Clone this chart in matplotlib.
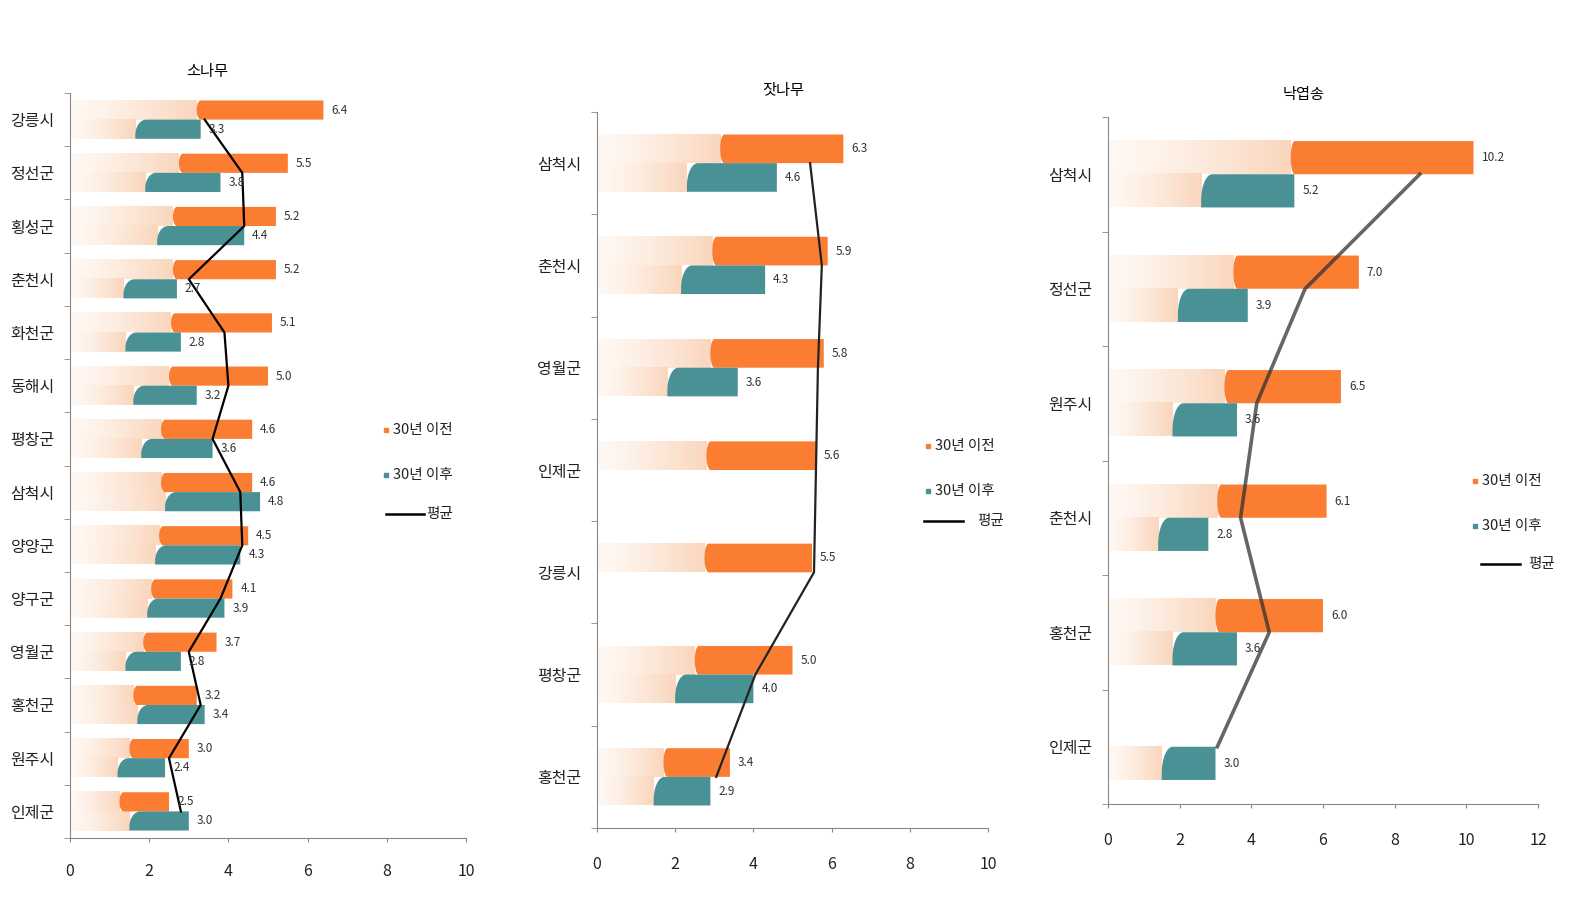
import numpy as np
import matplotlib
matplotlib.use("Agg")
import matplotlib.pyplot as plt
from matplotlib.patches import Polygon
from matplotlib.lines import Line2D

plt.rcParams["font.family"] = ["Noto Sans CJK KR", "DejaVu Sans"]

# ── data ──────────────────────────────────────────────────────────────────────
pine_cats = ["강릉시", "정선군", "횡성군", "춘천시", "화천군", "동해시", "평창군",
             "삼척시", "양양군", "양구군", "영월군", "홍천군", "원주시", "인제군"]
pine_before = [6.4, 5.5, 5.2, 5.2, 5.1, 5.0, 4.6, 4.6, 4.5, 4.1, 3.7, 3.2, 3.0, 2.5]
pine_after = [3.3, 3.8, 4.4, 2.7, 2.8, 3.2, 3.6, 4.8, 4.3, 3.9, 2.8, 3.4, 2.4, 3.0]
pine_avg = [3.4, 4.35, 4.4, 3.0, 3.9, 4.0, 3.6, 4.3, 4.35, 3.8, 3.0, 3.3, 2.5, 2.8]

korpine_cats = ["삼척시", "춘천시", "영월군", "인제군", "강릉시", "평창군", "홍천군"]
korpine_before = [6.3, 5.9, 5.8, 5.6, 5.5, 5.0, 3.4]
korpine_after = [4.6, 4.3, 3.6, np.nan, np.nan, 4.0, 2.9]
korpine_avg = [5.45, 5.75, 5.65, 5.6, 5.55, 4.05, 3.05]

larch_cats = ["삼척시", "정선군", "원주시", "춘천시", "홍천군", "인제군"]
larch_before = [10.2, 7.0, 6.5, 6.1, 6.0, np.nan]
larch_after = [5.2, 3.9, 3.6, 2.8, 3.6, 3.0]
larch_avg = [8.7, 5.5, 4.15, 3.7, 4.5, 3.05]

ORANGE = "#FA7D32"
TEAL = "#4A9196"
FIG_W, FIG_H = 1571, 923


def px_box(l, r, b, t):
    return [l / FIG_W, 1 - b / FIG_H, (r - l) / FIG_W, (b - t) / FIG_H]


def pale_gradient(ax, x1, yc, h):
    n = 64
    c0 = np.array([1.0, 0.975, 0.955])
    c1 = np.array([0.98, 0.84, 0.74])
    t = np.linspace(0, 1, n)[:, None] ** 1.3
    cols = c0 * (1 - t) + c1 * t
    ax.imshow(cols[None, :, :], extent=[0, x1, yc + h / 2, yc - h / 2], aspect="auto",
              interpolation="bilinear", zorder=1)


def shaped_bar(ax, x0, x1, yc, h, color, rx, ry_top, ry_bot, rr):
    # y axis is inverted: top = yc - h/2 on screen
    top, bot = yc - h / 2, yc + h / 2
    t = np.linspace(0, np.pi / 2, 20)
    pts = []
    # bottom-left corner curve (from bottom point up to left point)
    if ry_bot > 0:
        cx, cy = x0 + rx, bot - ry_bot
        pts += list(zip(cx - rx * np.sin(t), cy + ry_bot * np.cos(t)))
    else:
        pts.append((x0, bot))
    # top-left curve (from left point up to top point)
    cx, cy = x0 + rx, top + ry_top
    pts += list(zip(cx - rx * np.cos(t), cy - ry_top * np.sin(t)))
    # right end, slightly rounded
    pts += [(x1 - rr, top), (x1, top + rr * 0), (x1, bot), (x0 + rx, bot)]
    ax.add_patch(Polygon(pts, closed=True, fc=color, ec="none", zorder=2))


def panel(fig, rect, cats, before, after, avg, xmax, title, title_x, bh, line_kw, xpad):
    ax = fig.add_axes(rect)
    n = len(cats)
    pos = np.arange(n)
    bb = ax.get_position()
    xppu = bb.width * FIG_W / xmax
    for i in range(n):
        for v, color, off in [(before[i], ORANGE, -bh / 2), (after[i], TEAL, bh / 2)]:
            if np.isnan(v):
                continue
            yc = pos[i] + off
            pale_gradient(ax, v / 2, yc, bh)
            if color == TEAL:
                shaped_bar(ax, v / 2, v, yc, bh, color, 11 / xppu, bh * 0.8, 0, 0)
            else:
                shaped_bar(ax, v / 2, v, yc, bh, color, 4 / xppu, bh * 0.5, bh * 0.5, 0)
            ax.text(v + 8 / xppu, yc, f"{v:.1f}", va="center", ha="left",
                    fontsize=8.5, color="#333333", zorder=4)
    ax.plot(avg, pos, zorder=3, **line_kw)
    ax.set_xlim(0, xmax)
    ax.set_ylim(n - 0.5, -0.5)
    ax.set_yticks(pos)
    ax.set_yticklabels(cats, fontsize=11.5, color="#222222")
    ax.set_yticks(np.arange(n + 1) - 0.5, minor=True)
    ax.tick_params(axis="y", which="major", length=0, pad=11)
    ax.tick_params(axis="y", which="minor", length=4, color="#888888")
    ax.set_xticks(np.arange(0, xmax + 1, 2))
    ax.tick_params(axis="x", length=3, color="#888888", pad=xpad, labelsize=11.5,
                   labelcolor="#222222")
    for s in ["top", "right"]:
        ax.spines[s].set_visible(False)
    for s in ["left", "bottom"]:
        ax.spines[s].set_color("#888888")
    ax.text(title_x, 1.0 + 22 / (bb.height * FIG_H), title, transform=ax.transAxes,
            ha="center", va="center", fontsize=11)
    return ax


def legend(fig, mx, ys, lx0, lx1, ly, tx):
    for y, c, lab in [(ys[0], ORANGE, "30년 이전"), (ys[1], TEAL, "30년 이후")]:
        fig.add_artist(Line2D([mx / FIG_W], [1 - y / FIG_H], marker="s", ms=3.5,
                              color=c, linestyle="none", transform=fig.transFigure))
        fig.text((mx + 7) / FIG_W, 1 - y / FIG_H, lab, va="center", ha="left",
                 fontsize=10.5, color="#222222")
    fig.add_artist(Line2D([lx0 / FIG_W, lx1 / FIG_W], [1 - ly / FIG_H] * 2,
                          color="black", lw=1.8, transform=fig.transFigure))
    fig.text(tx / FIG_W, 1 - ly / FIG_H, "평균", va="center", ha="left",
             fontsize=10.5, color="#222222")


fig = plt.figure(figsize=(15.71, 9.23), dpi=100)

panel(fig, px_box(70, 466, 838, 93), pine_cats, pine_before, pine_after, pine_avg,
      10, "소나무", 0.346, 0.36, dict(color="black", lw=1.6), 15)
panel(fig, px_box(597, 988, 828, 112), korpine_cats, korpine_before, korpine_after,
      korpine_avg, 10, "잣나무", 0.476, 0.28, dict(color="#222222", lw=1.6), 17)
panel(fig, px_box(1108, 1538, 804, 117), larch_cats, larch_before, larch_after,
      larch_avg, 12, "낙엽송", 0.456, 0.29, dict(color="#333333", lw=2.6, alpha=0.75), 17)

legend(fig, 386, (430, 475), 386, 424, 514, 426)
legend(fig, 928, (446, 491), 924, 963, 521, 977)
legend(fig, 1475, (481, 526), 1481, 1520, 564, 1528)

fig.savefig("out.png", dpi=100)
